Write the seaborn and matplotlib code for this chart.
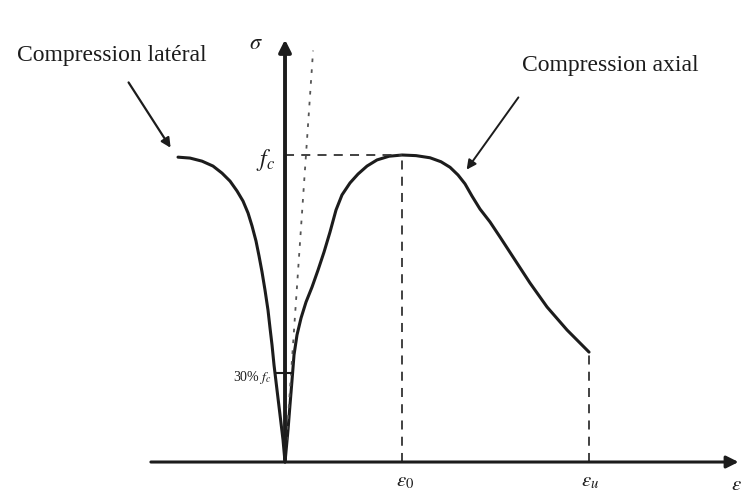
import matplotlib
matplotlib.use("Agg")
import matplotlib.pyplot as plt
import seaborn as sns
import pandas as pd

# strain in per-mille units, stress as sigma / fc
eps_0 = 2.0
eps_u = 5.2
frac_30 = 0.29

lat_eps = [0, -0.034, -0.085, -0.137, -0.188, -0.222, -0.256, -0.291, -0.342, -0.393, -0.444,
           -0.496, -0.564, -0.632, -0.718, -0.821, -0.940, -1.077, -1.231, -1.419, -1.624, -1.829]
lat_sig = [0, 0.072, 0.153, 0.235, 0.316, 0.381, 0.436, 0.495, 0.560, 0.619, 0.671,
           0.720, 0.769, 0.811, 0.850, 0.883, 0.915, 0.941, 0.964, 0.980, 0.990, 0.993]

axial_eps = [0, 0.051, 0.085, 0.120, 0.154, 0.205, 0.274, 0.359, 0.462, 0.564, 0.667, 0.769,
             0.872, 0.974, 1.111, 1.248, 1.402, 1.573, 1.778, 2.0, 2.239, 2.479, 2.667, 2.821,
             2.957, 3.077, 3.197, 3.333, 3.504, 3.675, 3.897, 4.188, 4.479, 4.821, 5.197]
axial_sig = [0, 0.104, 0.186, 0.267, 0.349, 0.414, 0.469, 0.521, 0.570, 0.625, 0.684, 0.749,
             0.821, 0.870, 0.909, 0.938, 0.964, 0.984, 0.996, 1.0, 0.998, 0.991, 0.978, 0.960,
             0.935, 0.906, 0.866, 0.824, 0.782, 0.733, 0.668, 0.583, 0.505, 0.430, 0.358]

tangent_eps = [0, 0.48]
tangent_sig = [0, 1.34]

sns.set_style("white")
plt.rcParams['font.family'] = ['Liberation Serif', 'DejaVu Serif']
plt.rcParams['mathtext.fontset'] = 'stix'

ink = "#1c1c1c"

fig = plt.figure(figsize=(7.56, 4.96), dpi=100)
ax = fig.add_axes([0, 0, 1, 1])
ax.set_xlim(-4.872, 8.051)
ax.set_ylim(-0.1107, 1.5049)
ax.axis("off")

lat = pd.DataFrame({"eps": lat_eps, "sig": lat_sig})
axial = pd.DataFrame({"eps": axial_eps, "sig": axial_sig})

sns.lineplot(data=lat, x="eps", y="sig", sort=False, color=ink, lw=2.2, ax=ax)
sns.lineplot(data=axial, x="eps", y="sig", sort=False, color=ink, lw=2.2, ax=ax)

# guide lines
ax.plot(tangent_eps, tangent_sig, color="#555555", lw=1.3, ls=(0, (2, 4)))
ax.plot([0, eps_0], [1, 1], color="#333333", lw=1.3, ls=(0, (5, 4)))
ax.plot([eps_0, eps_0], [0, 1], color="#333333", lw=1.3, ls=(0, (5, 4)))
ax.plot([eps_u, eps_u], [0, axial_sig[-1]], color="#333333", lw=1.3, ls=(0, (5, 4)))
ax.plot([-0.17, 0.14], [frac_30, frac_30], color=ink, lw=1.5)

# axes arrows
ax.annotate("", xy=(7.8, 0), xytext=(-2.34, 0),
            arrowprops=dict(arrowstyle="-|>", color=ink, lw=2.2, mutation_scale=18))
ax.annotate("", xy=(0, 1.385), xytext=(0, 0),
            arrowprops=dict(arrowstyle="-|>", color=ink, lw=2.8, mutation_scale=18))

# labels
ax.text(-0.5, 1.36, r"$\sigma$", fontsize=16, ha="center", va="center", color=ink)
ax.text(-0.34, 0.985, r"$f_c$", fontsize=17, ha="center", va="center", color=ink)
ax.text(-0.22, 0.275, r"30% $f_c$", fontsize=10, ha="right", va="center", color=ink)
ax.text(eps_0 + 0.05, -0.065, r"$\varepsilon_0$", fontsize=15, ha="center", va="center", color=ink)
ax.text(eps_u + 0.02, -0.065, r"$\varepsilon_u$", fontsize=15, ha="center", va="center", color=ink)
ax.text(7.72, -0.075, r"$\varepsilon$", fontsize=15, ha="center", va="center", color=ink)

ax.text(-2.96, 1.325, "Compression latéral", fontsize=17, ha="center", va="center", color=ink)
ax.text(5.56, 1.29, "Compression axial", fontsize=17, ha="center", va="center", color=ink)

ax.annotate("", xy=(-1.93, 1.016), xytext=(-2.70, 1.244),
            arrowprops=dict(arrowstyle="-|>", color=ink, lw=1.6, mutation_scale=14))
ax.annotate("", xy=(3.077, 0.945), xytext=(4.017, 1.195),
            arrowprops=dict(arrowstyle="-|>", color=ink, lw=1.4, mutation_scale=14))

fig.savefig("out.png", dpi=100, facecolor="white")
